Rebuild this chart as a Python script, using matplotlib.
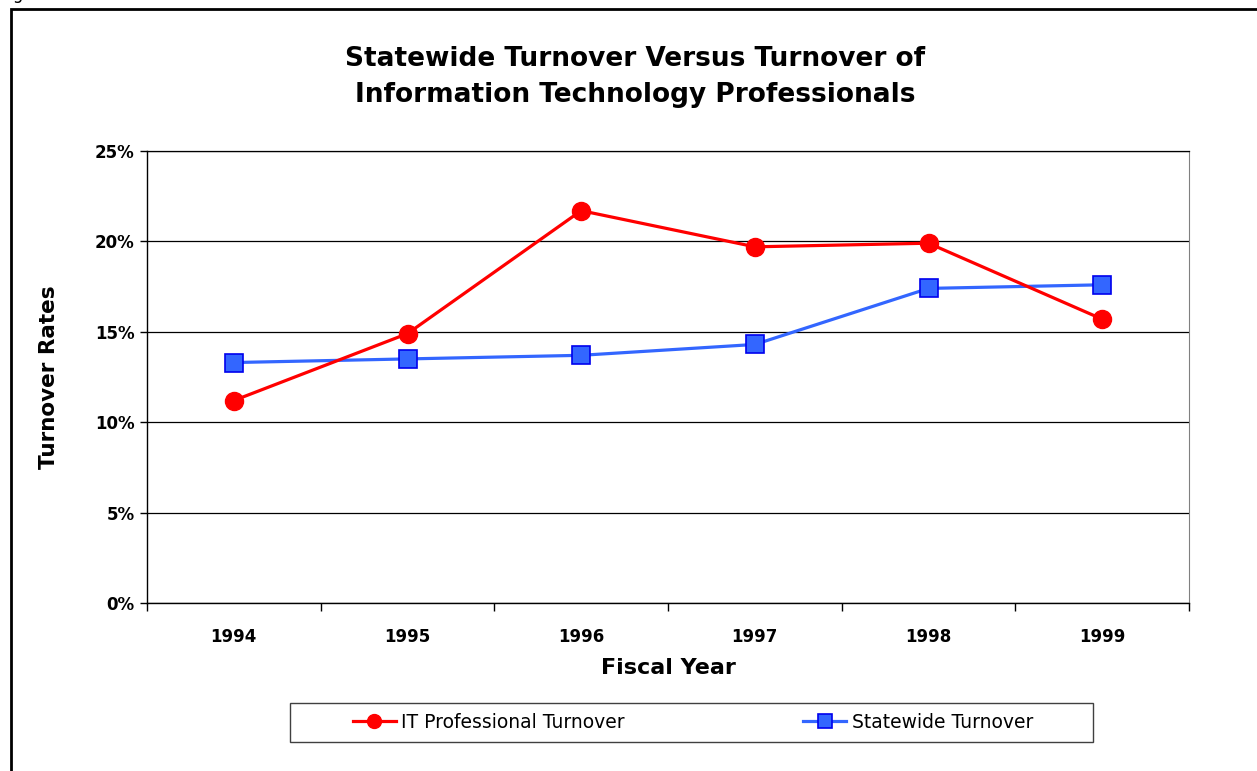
import matplotlib
matplotlib.use('Agg')
import matplotlib.pyplot as plt
from matplotlib.patches import Rectangle
from matplotlib.ticker import FuncFormatter, FixedLocator, NullFormatter

# data
years = ['1994', '1995', '1996', '1997', '1998', '1999']
it_turnover = [11.2, 14.9, 21.7, 19.7, 19.9, 15.7]
statewide_turnover = [13.3, 13.5, 13.7, 14.3, 17.4, 17.6]
yticks = [0, 5, 10, 15, 20, 25]

plt.rcParams['font.family'] = ['DejaVu Sans']

fig = plt.figure(figsize=(12.57, 7.71), dpi=100)
ax = fig.add_axes([147/1257, 1 - 603/771, (1189-147)/1257, (603-151)/771])

x = list(range(len(years)))
ax.plot(x, it_turnover, color='#ff0000', lw=2.3, marker='o', ms=13,
        mfc='#ff0000', mec='#ff0000', label='IT Professional Turnover', zorder=4)
ax.plot(x, statewide_turnover, color='#3366ff', lw=2.3, marker='s', ms=13,
        mfc='#3366ff', mec='#0000ee', mew=1.2, label='Statewide Turnover', zorder=3)

ax.set_xlim(-0.5, len(years) - 0.5)
ax.set_ylim(0, 25)

# y axis
ax.set_yticks(yticks)
ax.yaxis.set_major_formatter(FuncFormatter(lambda v, p: f'{int(v)}%'))
ax.yaxis.grid(True, color='black', lw=0.9)
ax.set_axisbelow(True)
ax.tick_params(axis='y', direction='out', length=5, width=1, pad=4, labelsize=12)

# x axis: ticks between categories, labels centered
ax.xaxis.set_major_locator(FixedLocator([i - 0.5 for i in range(len(years) + 1)]))
ax.xaxis.set_major_formatter(NullFormatter())
ax.xaxis.set_minor_locator(FixedLocator(x))
ax.set_xticklabels(years, minor=True)
ax.tick_params(axis='x', which='major', direction='out', length=6, width=1)
ax.tick_params(axis='x', which='minor', length=0, pad=18, labelsize=12)
for lab in ax.get_yticklabels() + ax.get_xticklabels(minor=True):
    lab.set_fontweight('bold')

for side in ['left', 'bottom']:
    ax.spines[side].set_color('black')
    ax.spines[side].set_linewidth(1)
ax.spines['right'].set_color('#808080')
ax.spines['top'].set_color('black')
ax.spines['top'].set_linewidth(0.9)

ax.set_xlabel('Fiscal Year', fontsize=16, fontweight='bold', labelpad=9)
ax.set_ylabel('Turnover Rates', fontsize=15.5, fontweight='bold', labelpad=26)

fig.text(635/1257, 1 - 77/771, 'Statewide Turnover Versus Turnover of\nInformation Technology Professionals',
         ha='center', va='center', fontsize=19, fontweight='bold', linespacing=1.55)

# legend box drawn separately, entries placed inside it
fig.patches.append(Rectangle((290/1257, 1 - 742/771), 803/1257, 39/771, transform=fig.transFigure,
                             fill=False, edgecolor='#404040', lw=1))
leg = fig.legend(loc='center', bbox_to_anchor=(693/1257, 1 - 722/771), ncol=2, fontsize=13.5,
                 frameon=False, borderaxespad=0, handlelength=2.3, handletextpad=0.3,
                 columnspacing=9.5, borderpad=0)
for h in leg.legend_handles:
    h.set_markersize(10)

# outer frame and cut-off caption
fig.patches.append(Rectangle((11/1257, -0.05), 1.2, 1 - 9/771 + 0.05, transform=fig.transFigure,
                             fill=False, edgecolor='black', lw=2))
fig.text(0, 1 - 3/771, 'Figure 1', ha='left', va='bottom', fontsize=12)

fig.savefig('out.png', dpi=100)
